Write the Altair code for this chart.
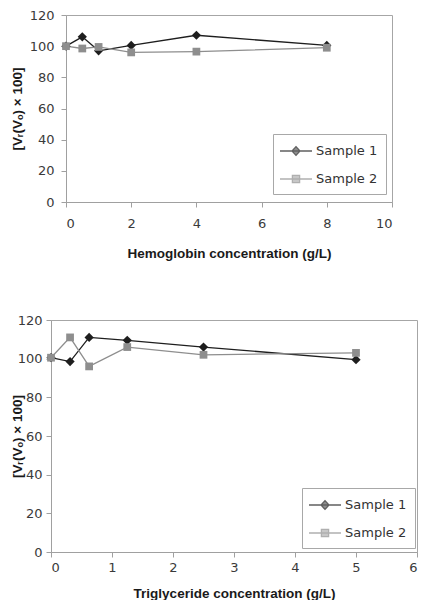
import altair as alt
import pandas as pd

# ---- data ----
series = ["Sample 1", "Sample 2"]

hb_x = [0, 0.5, 1, 2, 4, 8]
hb_s1 = [100, 106, 97, 100.5, 107, 100.5]
hb_s2 = [100, 98.5, 99.5, 96, 96.5, 99]

tg_x = [0, 0.3125, 0.625, 1.25, 2.5, 5]
tg_s1 = [100.5, 98.5, 111, 109.5, 106, 99.5]
tg_s2 = [100.5, 111, 96, 106, 102, 103]

hb_ticks = [0, 2, 4, 6, 8, 10]
tg_ticks = [0, 1, 2, 3, 4, 5, 6]
y_ticks = [0, 20, 40, 60, 80, 100, 120]

colors = ["#1e1e1e", "#8e8e8e"]
marker_shapes = ["diamond", "square"]
marker_sizes = [85, 60]
legend_paths = [
    "M-1.25,0L2.75,0M0.75,-0.55L1.25,0L0.75,0.55L0.25,0Z",
    "M-1.25,0L2.75,0M0.3,-0.45L1.2,-0.45L1.2,0.45L0.3,0.45Z",
]

Y_TITLE = "[V\u1d63(V\u2092) \u00d7 100]"
TICK_FONT = "DejaVu Sans"
TITLE_FONT = "Liberation Sans"


def long_df(xs, s1, s2):
    rows = []
    for name, vals in zip(series, [s1, s2]):
        for x, v in zip(xs, vals):
            rows.append({"x": x, "y": v, "series": name})
    return pd.DataFrame(rows)


def panel(xs, s1, s2, xmax, xticks, xtitle, w, h, lx, ly,
          y_label_pad, y_title_pad, x_label_pad, x_title_pad):
    df = long_df(xs, s1, s2)
    xenc = alt.X("x:Q", scale=alt.Scale(domain=[0, xmax], nice=False),
                 axis=alt.Axis(values=xticks, title=xtitle, grid=False,
                               labelPadding=x_label_pad, titlePadding=x_title_pad))
    yenc = alt.Y("y:Q", scale=alt.Scale(domain=[0, 120], nice=False),
                 axis=alt.Axis(values=y_ticks, title=Y_TITLE, grid=False,
                               labelPadding=y_label_pad, titlePadding=y_title_pad))
    base = alt.Chart(df)
    layers = []
    for name, col in zip(series, colors):
        layers.append(base.transform_filter(alt.datum.series == name)
                      .mark_line(strokeWidth=1.3, color=col).encode(x=xenc, y=yenc))
    for name, col, shp, sz in zip(series, colors, marker_shapes, marker_sizes):
        layers.append(base.transform_filter(alt.datum.series == name)
                      .mark_point(filled=True, shape=shp, size=sz, opacity=1, color=col)
                      .encode(x=xenc, y=yenc))
    leg = alt.Legend(
        title=None, orient="none", legendX=lx, legendY=ly,
        strokeColor="#a8a8a8", fillColor="white", padding=8,
        labelFont=TICK_FONT, labelFontSize=13, labelColor="#333333",
        symbolSize=256, symbolStrokeWidth=1.3,
        rowPadding=12, labelOffset=17,
    )
    # legend-only layer: the explicit scale domains give the entries, it draws no marks
    layers.append(base.transform_filter("false").mark_point(filled=True).encode(
        x=xenc, y=yenc,
        fill=alt.Fill("series:N", scale=alt.Scale(domain=series, range=colors), legend=leg),
        stroke=alt.Stroke("series:N", scale=alt.Scale(domain=series, range=colors), legend=leg),
        shape=alt.Shape("series:N", scale=alt.Scale(domain=series, range=legend_paths), legend=leg),
    ))
    return alt.layer(*layers).properties(width=w, height=h)


def spacer():
    return alt.Chart(pd.DataFrame({"x": [0]})).transform_filter("false").mark_point().encode(
        x=alt.X("x:Q", axis=None), y=alt.Y("x:Q", axis=None)
    ).properties(width=1, height=1, view=alt.ViewBackground(stroke=None))


top = panel(hb_x, hb_s1, hb_s2, 10, hb_ticks, "Hemoglobin concentration (g/L)",
            326, 187, 265, 119, 7, 5, 10, 16)
bottom = panel(tg_x, tg_s1, tg_s2, 6, tg_ticks, "Triglyceride concentration (g/L)",
               366, 232, 294, 168, 4, -7, 4, 12)

chart = alt.vconcat(
    alt.hconcat(spacer(), top, spacing=0),
    alt.hconcat(spacer(), bottom, spacing=0),
    spacing=53,
).resolve_scale(
    fill="independent", stroke="independent", shape="independent"
).resolve_legend(
    fill="independent", stroke="independent", shape="independent"
).properties(
    padding={"left": 0, "top": 0, "right": 0, "bottom": 0}
).configure_view(
    stroke="#a6a6a6", strokeWidth=1
).configure_axis(
    domainColor="#a0a0a0", tickColor="#a0a0a0", tickSize=5, domainWidth=1,
    labelFont=TICK_FONT, labelFontSize=13, labelColor="#3a3a3a",
    titleFont=TITLE_FONT, titleFontSize=13.5, titleFontWeight="bold", titleColor="#1a1a1a",
)

chart.save("out.html", embed_options={"renderer": "svg", "actions": False})
